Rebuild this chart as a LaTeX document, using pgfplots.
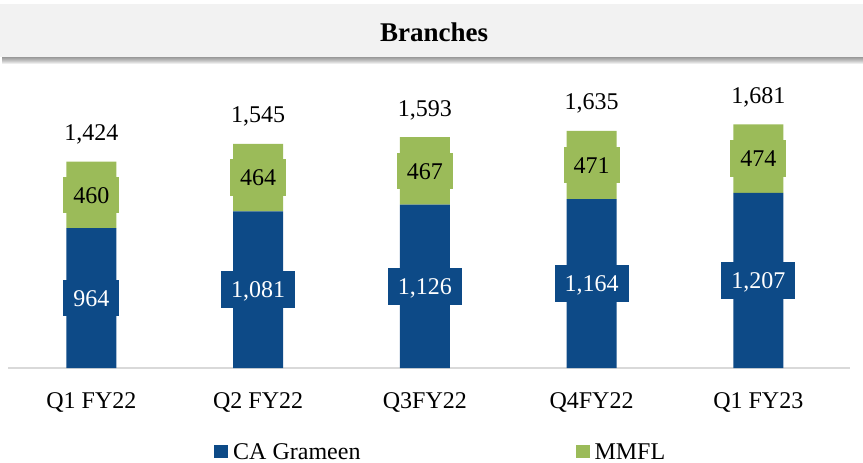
\documentclass[border=0pt]{standalone}
\usepackage{fontspec}
\setmainfont{Liberation Serif}
\usepackage{pgfplots}
\usepackage{pgfplotstable}
\pgfplotsset{compat=1.18}
\definecolor{cabl}{HTML}{0D4A87}
\definecolor{mmgr}{HTML}{9BBB59}
\definecolor{titlebg}{HTML}{F2F2F2}
\pgfplotstableread{
x ca mm tot bmid gmid blab glab tlab
0 964 460 1424 482 1194 964 460 1,424
1 1081 464 1545 540.5 1313 1,081 464 1,545
2 1126 467 1593 563 1359.5 1,126 467 1,593
3 1164 471 1635 582 1399.5 1,164 471 1,635
4 1207 474 1681 603.5 1444 1,207 474 1,681
}\data
\pgfplotsset{
  common/.style={
    scale only axis, width=842bp, height=290bp,
    xmin=-0.5, xmax=4.55, ymin=0, ymax=2000,
    clip=false,
    font=\fontsize{24bp}{28bp}\selectfont,
  }
}
\begin{document}
\begin{tikzpicture}
\useasboundingbox (-8bp,-95bp) rectangle (855bp,368bp);
% title bar with shadow
\foreach \i in {1,...,7}{
  \fill[black, opacity=0.07] (-6bp,{311bp-\i bp}) rectangle (855bp,311bp);
}
\fill[titlebg] (-8bp,311bp) rectangle (855bp,364bp);
\node[font=\fontsize{27bp}{30bp}\selectfont\bfseries] at (426bp,336bp) {Branches};
\begin{axis}[common,
  ybar stacked, bar width=50bp,
  axis x line*=bottom, axis y line=none,
  x axis line style={draw=black!15, line width=1.5bp},
  xtick={0,1,2,3,4},
  xticklabels={Q1 FY22, Q2 FY22, Q3FY22, Q4FY22, Q1 FY23},
  major tick length=0pt,
  xticklabel style={anchor=base, yshift=-40bp},
  ytick=\empty,
  legend style={draw=none, fill=none, at={(0.2447,-0.2897)}, anchor=west,
    legend columns=2, inner sep=0pt,
    /tikz/every even column/.append style={column sep=213bp},
    font=\fontsize{24bp}{28bp}\selectfont},
  legend image code/.code={\fill[#1,draw=none] (0bp,-6bp) rectangle (14bp,7bp);\path (17bp,0bp);},
]
\addplot[fill=cabl, draw=none] table[x=x, y=ca]{\data};
\addlegendentry{CA Grameen}
\addplot[fill=mmgr, draw=none] table[x=x, y=mm]{\data};
\addlegendentry{MMFL}
\end{axis}
\begin{axis}[common, hide axis]
\addplot[draw=none, mark=none, nodes near coords, point meta=explicit symbolic,
  every node near coord/.append style={anchor=center, fill=cabl, text=white,
    inner xsep=10bp, inner ysep=10bp, text height=16.3bp, text depth=0bp}]
  table[x=x, y=bmid, meta=blab]{\data};
\addplot[draw=none, mark=none, nodes near coords, point meta=explicit symbolic,
  every node near coord/.append style={anchor=center, fill=mmgr, text=black,
    inner xsep=10bp, inner ysep=10bp, text height=16.3bp, text depth=0bp}]
  table[x=x, y=gmid, meta=glab]{\data};
\addplot[draw=none, mark=none, nodes near coords, point meta=explicit symbolic,
  every node near coord/.append style={anchor=base, yshift=21bp, text=black}]
  table[x=x, y=tot, meta=tlab]{\data};
\end{axis}
\end{tikzpicture}
\end{document}
